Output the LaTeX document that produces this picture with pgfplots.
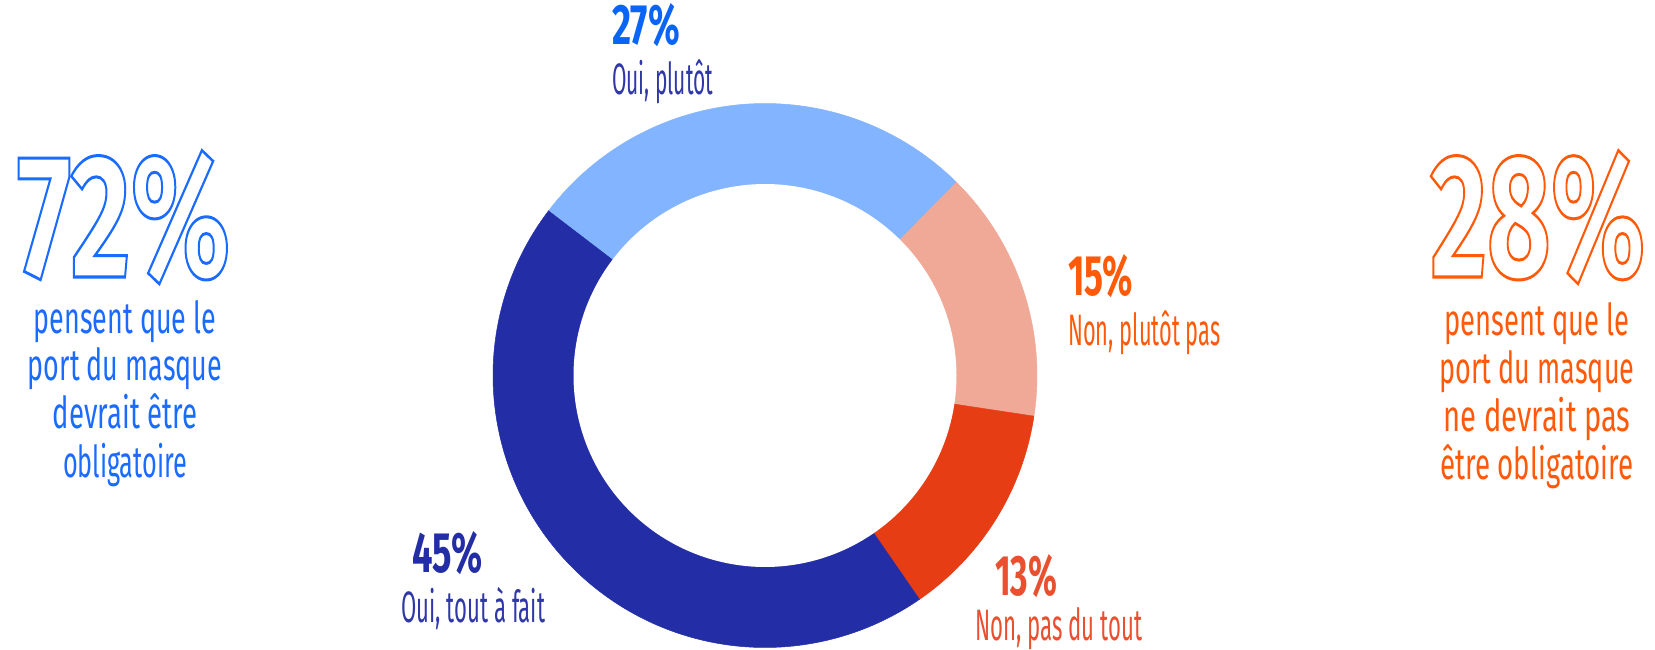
\documentclass[border=0pt]{standalone}
\usepackage{pgfplots}
\pgfplotsset{compat=1.18}
\usepackage{fontspec}
\setmainfont{Fira Sans}
\usepackage{graphicx}
\definecolor{lblue}{HTML}{82B4FF}
\definecolor{dblue}{HTML}{232EA6}
\definecolor{salmon}{HTML}{F0A996}
\definecolor{rred}{HTML}{E63D14}
\definecolor{tblue}{HTML}{1A6BFF}
\definecolor{tblue2}{HTML}{0A64F5}
\definecolor{tdblue}{HTML}{3038A8}
\definecolor{torange}{HTML}{FF5A0A}
\definecolor{tred}{HTML}{E8502F}
% text of given width (pt), font size, content
\newcommand\tx[3]{\resizebox{#1pt}{\height}{\fontsize{#2}{#2}\selectfont #3}}
\newcommand\tb[3]{\resizebox{#1pt}{\height}{\fontsize{#2}{#2}\selectfont\bfseries #3}}
\newcommand\outl[1]{\special{pdf:literal direct 1 Tr 3 w}#1\special{pdf:literal direct 0 Tr}}
\begin{document}
\begin{tikzpicture}
\begin{axis}[at={(0,0)}, anchor=south west, width=1655pt, height=649pt,
  scale only axis, xmin=0, xmax=1655, ymin=0, ymax=649, hide axis, clip=false]
% values (percent), clockwise from 45.4 degrees
\def\cx{765}\def\cy{273.5}\def\R{272}\def\r{191.5}
\pgfmathsetmacro\aA{45.4}
\pgfmathsetmacro\aB{\aA-3.6*15}
\pgfmathsetmacro\aC{\aB-3.6*13}
\pgfmathsetmacro\aD{\aC-3.6*45}
\pgfmathsetmacro\aE{\aD-3.6*27}
\addplot[fill=salmon, draw=salmon, line width=0.5pt, domain=\aB:\aA, samples=80, variable=\t]
  ({\cx+\R*cos(\t)}, {\cy+\R*sin(\t)}) -- (axis cs:\cx,\cy) -- cycle;
\addplot[fill=rred, draw=rred, line width=0.5pt, domain=\aC:\aB, samples=80, variable=\t]
  ({\cx+\R*cos(\t)}, {\cy+\R*sin(\t)}) -- (axis cs:\cx,\cy) -- cycle;
\addplot[fill=dblue, draw=dblue, line width=0.5pt, domain=\aD:\aC, samples=160, variable=\t]
  ({\cx+\R*cos(\t)}, {\cy+\R*sin(\t)}) -- (axis cs:\cx,\cy) -- cycle;
\addplot[fill=lblue, draw=lblue, line width=0.5pt, domain=\aE:\aD, samples=100, variable=\t]
  ({\cx+\R*cos(\t)}, {\cy+\R*sin(\t)}) -- (axis cs:\cx,\cy) -- cycle;
\addplot[fill=white, draw=none, domain=0:360, samples=200, variable=\t]
  ({\cx+\r*cos(\t)}, {\cy+\r*sin(\t)}) -- cycle;
% slice labels
\node[anchor=base west, inner sep=0, text=tblue2] at (axis cs:612,604) {\tb{68}{57}{27\%}};
\node[anchor=base west, inner sep=0, text=tdblue] at (axis cs:612,554) {\tx{101}{44}{Oui, plutôt}};
\node[anchor=base west, inner sep=0, text=torange] at (axis cs:1068,354) {\tb{65}{57}{15\%}};
\node[anchor=base west, inner sep=0, text=torange] at (axis cs:1068,304) {\tx{152}{44}{Non, plutôt pas}};
\node[anchor=base west, inner sep=0, text=dblue] at (axis cs:412,77) {\tb{70}{57}{45\%}};
\node[anchor=base west, inner sep=0, text=tdblue] at (axis cs:401,27) {\tx{144}{44}{Oui, tout à fait}};
\node[anchor=base west, inner sep=0, text=tred] at (axis cs:995,54) {\tb{62}{57}{13\%}};
\node[anchor=base west, inner sep=0, text=tred] at (axis cs:975,9) {\tx{167}{44}{Non, pas du tout}};
% big totals
\node[anchor=base west, inner sep=0, text=tblue] at (axis cs:17,372) {\raisebox{0pt}[\height][0pt]{\color{tblue}\tb{213}{176}{\outl{72\%}}}};
\node[anchor=base west, inner sep=0, text=torange] at (axis cs:1430,372) {\raisebox{0pt}[\height][0pt]{\color{torange}\tb{215}{176}{\outl{28\%}}}};
% left text
\node[anchor=base, inner sep=0, text=tblue] at (axis cs:125,316) {\tx{182}{44}{pensent que le}};
\node[anchor=base, inner sep=0, text=tblue] at (axis cs:125,269) {\tx{194}{44}{port du masque}};
\node[anchor=base, inner sep=0, text=tblue] at (axis cs:125,221) {\tx{144}{44}{devrait être}};
\node[anchor=base, inner sep=0, text=tblue] at (axis cs:125,172) {\tx{124}{44}{obligatoire}};
% right text
\node[anchor=base, inner sep=0, text=torange] at (axis cs:1537,314) {\tx{185}{44}{pensent que le}};
\node[anchor=base, inner sep=0, text=torange] at (axis cs:1537,266) {\tx{195}{44}{port du masque}};
\node[anchor=base, inner sep=0, text=torange] at (axis cs:1537,218) {\tx{187}{44}{ne devrait pas}};
\node[anchor=base, inner sep=0, text=torange] at (axis cs:1537,170) {\tx{193}{44}{être obligatoire}};
\end{axis}
\pgfresetboundingbox
\path (0,0) rectangle (1655pt,649pt);
\end{tikzpicture}
\end{document}
